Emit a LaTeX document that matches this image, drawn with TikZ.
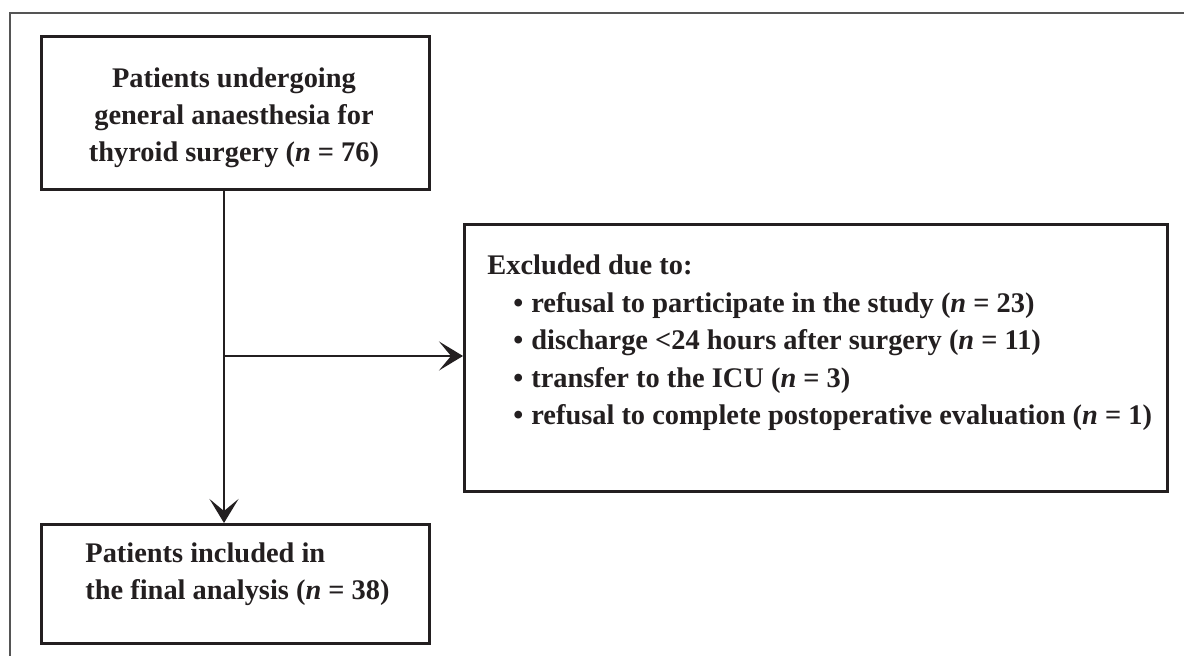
\documentclass[tikz,border=0pt]{standalone}
\usepackage{fontspec}
\setmainfont{Liberation Serif}
\usetikzlibrary{arrows.meta,calc}
\definecolor{ink}{HTML}{231F20}
\definecolor{frame}{HTML}{555555}
\tikzset{
  box/.style={draw=ink, line width=1.5pt, rectangle, inner sep=0pt},
  txt/.style={text=ink, inner sep=0pt},
  conn/.style={draw=ink, line width=1pt, -{Stealth[length=12pt,width=14.5pt,inset=6pt]}},
}
\newcommand{\bul}{\hspace*{13pt}\textbullet\hspace{4pt}}
\begin{document}
\begin{tikzpicture}[x=0.5pt,y=-0.5pt]
\useasboundingbox (0,0) rectangle (1184,656);
\fill[white] (0,0) rectangle (1184,656);
% outer frame (cropped at right and bottom)
\draw[frame, line width=1pt] (10,660) -- (10,13) -- (1190,13);
% boxes
\node[box, minimum width=194pt, minimum height=76.5pt, anchor=north west] (top) at (40,35) {};
\node[box, minimum width=351.5pt, minimum height=133.5pt, anchor=north west] (excl) at (463,223) {};
\node[box, minimum width=194pt, minimum height=59.5pt, anchor=north west] (incl) at (40,523) {};
% texts
\node[txt, anchor=base] (toptxt) at (234,88) {\fontsize{14.2}{18.5}\selectfont\bfseries
  \begin{tabular}[t]{@{}c@{}}Patients undergoing\\general anaesthesia for\\thyroid surgery (\textit{n} = 76)\end{tabular}};
\node[txt, anchor=base west] (incltxt) at (85,563) {\fontsize{14.2}{18.5}\selectfont\bfseries
  \begin{tabular}[t]{@{}l@{}}Patients included in\\the final analysis (\textit{n} = 38)\end{tabular}};
\node[txt, anchor=base west] (excltxt) at (487,275) {\fontsize{14.2}{18.75}\selectfont\bfseries
  \begin{tabular}[t]{@{}l@{}}Excluded due to:\\
  \bul refusal to participate in the study (\textit{n} = 23)\\
  \bul discharge <24 hours after surgery (\textit{n} = 11)\\
  \bul transfer to the ICU (\textit{n} = 3)\\
  \bul refusal to complete postoperative evaluation (\textit{n} = 1)\end{tabular}};
% connectors
\coordinate (branch) at (224,356);
\draw[conn] (top.south -| branch) -- (incl.north -| branch);
\draw[conn] (branch) -- (excl.west |- branch);
\end{tikzpicture}
\end{document}
